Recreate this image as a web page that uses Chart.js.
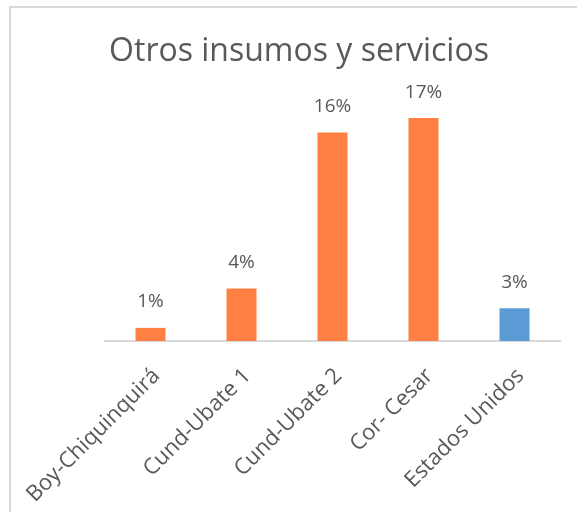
<!DOCTYPE html>
<html>
<head>
<meta charset="utf-8">
<script src="https://cdn.jsdelivr.net/npm/chart.js@4"></script>
<style>
  body { margin: 0; background: #fff; }
  #frame { position: absolute; left: 9px; top: 6px; width: 620px; height: 540px; border: 2px solid #d9d9d9; }
  #wrap { position: absolute; left: 0; top: 0; width: 577px; height: 512px; }
</style>
</head>
<body>
<div id="frame"></div>
<div id="wrap"><canvas id="otrosChart"></canvas></div>
<script>
const regiones = ['Boy-Chiquinquirá', 'Cund-Ubate 1', 'Cund-Ubate 2', 'Cor- Cesar', 'Estados Unidos'];
const porcentajes = [1.0, 4.0, 15.9, 17.0, 2.5];
const colores = ['#FF8042', '#FF8042', '#FF8042', '#FF8042', '#5B9BD5'];
const titulo = 'Otros insumos y servicios';

// title + % labels above each bar
const etiquetas = {
  id: 'etiquetas',
  afterDatasetsDraw(chart) {
    const ctx = chart.ctx;
    const meta = chart.getDatasetMeta(0);
    ctx.save();
    ctx.fillStyle = '#595959';
    ctx.textAlign = 'center';
    ctx.textBaseline = 'middle';
    ctx.font = '32px "Open Sans"';
    ctx.fillText(titulo, 299, 52);
    ctx.font = '19px "Open Sans"';
    meta.data.forEach((bar, i) => {
      ctx.fillText(Math.round(porcentajes[i]) + '%', bar.x, bar.y - 26);
    });
    ctx.restore();
  }
};

const ctx = document.getElementById('otrosChart').getContext('2d');

new Chart(ctx, {
  type: 'bar',
  data: {
    labels: regiones,
    datasets: [{
      data: porcentajes,
      backgroundColor: colores,
      barPercentage: 0.33,
      categoryPercentage: 1
    }]
  },
  options: {
    responsive: true,
    maintainAspectRatio: false,
    animation: false,
    layout: { padding: { left: 105, right: 17, top: 105, bottom: 0 } },
    plugins: {
      legend: { display: false },
      tooltip: { enabled: false },
      title: { display: false }
    },
    scales: {
      x: {
        grid: { display: false },
        border: { color: '#d9d9d9', width: 2 },
        ticks: {
          color: '#595959',
          font: { family: 'Open Sans', size: 22 },
          minRotation: 45,
          maxRotation: 45,
          padding: 14,
          labelOffset: 6
        },
        afterFit(scale) { scale.height = 171; }
      },
      y: {
        display: false,
        min: 0,
        max: 18
      }
    }
  },
  plugins: [etiquetas]
});
</script>
</body>
</html>
